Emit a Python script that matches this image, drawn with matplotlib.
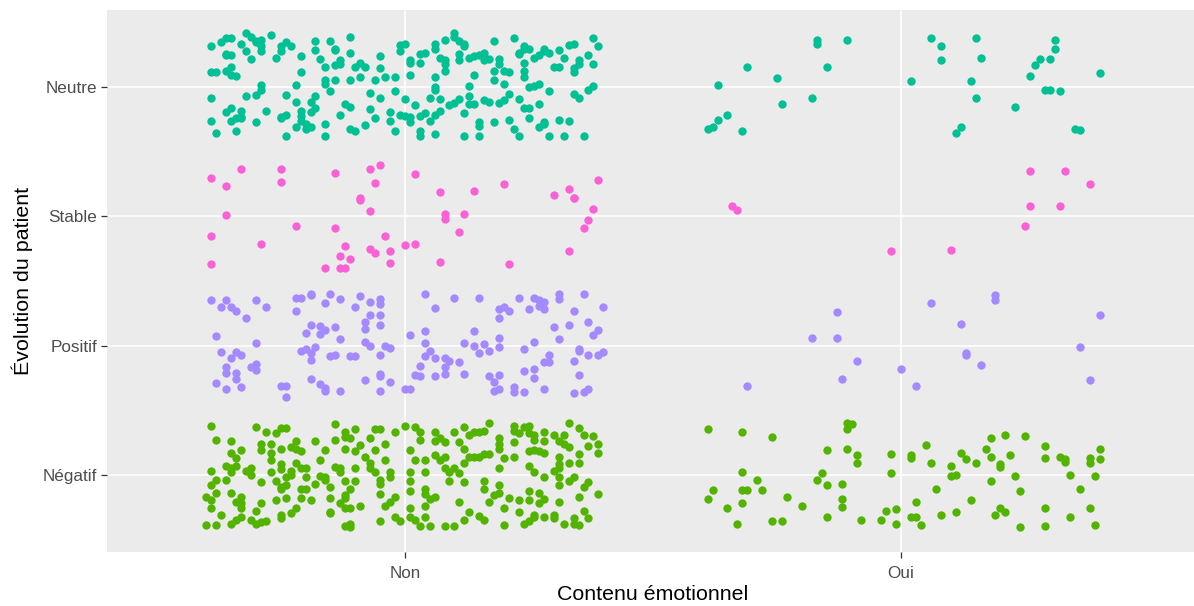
import matplotlib
matplotlib.use('Agg')
import matplotlib.pyplot as plt

plt.rcParams['font.family'] = ['Liberation Sans', 'DejaVu Sans']

# Categories
contenu = ['Non', 'Oui']
evolution = ['Négatif', 'Positif', 'Stable', 'Neutre']
couleurs = {'Négatif': '#53B400', 'Positif': '#A58AFF', 'Stable': '#FB61D7', 'Neutre': '#00C094'}

# Jitter offsets (dx, dy), in category units, per group
non_neutre = [
    (-0.39, 0.32), (-0.37, 0.35), (-0.36, 0.38), (-0.35, 0.38), (-0.33, 0.34), (-0.32, 0.42), (-0.31, 0.39),
    (-0.30, 0.35), (-0.30, 0.36), (-0.29, 0.37), (-0.29, 0.32), (-0.29, 0.28), (-0.27, 0.41), (-0.32, 0.28),
    (-0.31, 0.22), (-0.36, 0.26), (-0.36, 0.25), (-0.35, 0.25), (-0.25, 0.32), (-0.24, 0.35), (-0.23, 0.32),
    (-0.25, 0.28), (-0.26, 0.23), (-0.21, 0.24), (-0.18, 0.36), (-0.18, 0.29), (-0.15, 0.36), (-0.14, 0.30),
    (-0.14, 0.29), (-0.17, 0.22), (-0.16, 0.16), (-0.14, 0.17), (-0.13, 0.18), (-0.13, 0.21), (-0.11, 0.27),
    (-0.11, 0.39), (-0.10, 0.16), (-0.09, 0.19), (-0.08, 0.16), (-0.05, 0.24), (-0.05, 0.15), (-0.01, 0.33),
    (-0.01, 0.28), (-0.39, 0.12), (-0.38, 0.12), (-0.36, 0.13), (-0.35, 0.10), (-0.35, 0.16), (-0.34, 0.09),
    (-0.21, 0.12), (-0.06, 0.06), (-0.04, 0.08), (-0.02, 0.08), (-0.09, 0.08), (-0.11, 0.06), (-0.14, 0.06),
    (-0.16, 0.06), (-0.16, 0.03), (-0.29, 0.02), (-0.29, -0.02), (-0.30, -0.06), (-0.22, 0.02), (-0.15, -0.03),
    (-0.07, -0.04), (-0.02, -0.03), (-0.39, -0.08), (-0.32, -0.07), (-0.24, -0.06), (-0.22, -0.11), (-0.19, -0.11),
    (-0.18, -0.07), (-0.18, -0.16), (-0.19, -0.19), (-0.21, -0.18), (-0.21, -0.22), (-0.21, -0.26), (-0.22, -0.31),
    (-0.20, -0.28), (-0.19, -0.31), (-0.20, -0.32), (-0.16, -0.28), (-0.16, -0.38), (-0.12, -0.13), (-0.11, -0.15),
    (-0.13, -0.21), (-0.07, -0.17), (-0.06, -0.24), (-0.05, -0.08), (-0.03, -0.19), (-0.03, -0.26), (-0.02, -0.34),
    (-0.01, -0.21), (-0.08, -0.29), (-0.11, -0.32), (-0.10, -0.34), (-0.39, -0.26), (-0.36, -0.19), (-0.35, -0.16),
    (-0.33, -0.18), (-0.33, -0.23), (-0.34, -0.24), (-0.35, -0.26), (-0.33, -0.24), (-0.38, -0.35), (-0.34, -0.34),
    (-0.30, -0.27), (-0.28, -0.18), (-0.25, -0.24), (-0.25, -0.23), (-0.24, -0.21), (-0.24, -0.38),
    (0.00, 0.34), (0.01, 0.21), (0.01, 0.19), (0.03, 0.19), (0.03, 0.26), (0.04, 0.27), (0.06, 0.34), (0.06, 0.30),
    (0.07, 0.23), (0.08, 0.21), (0.08, 0.18), (0.08, 0.13), (0.08, 0.37), (0.10, 0.42), (0.10, 0.39), (0.11, 0.36),
    (0.12, 0.34), (0.12, 0.32), (0.11, 0.26), (0.11, 0.21), (0.13, 0.23), (0.14, 0.24), (0.15, 0.25), (0.16, 0.27),
    (0.17, 0.22), (0.16, 0.21), (0.18, 0.36), (0.19, 0.22), (0.19, 0.18), (0.18, 0.13), (0.20, 0.13), (0.21, 0.12),
    (0.22, 0.38), (0.23, 0.26), (0.23, 0.27), (0.24, 0.30), (0.24, 0.32), (0.25, 0.30), (0.24, 0.19), (0.24, 0.13),
    (0.24, 0.08), (0.26, 0.23), (0.27, 0.25), (0.28, 0.28), (0.28, 0.30), (0.29, 0.27), (0.31, 0.29), (0.32, 0.23),
    (0.30, 0.16), (0.31, 0.16), (0.33, 0.33), (0.34, 0.34), (0.35, 0.21), (0.35, 0.18), (0.34, 0.15), (0.34, 0.12),
    (0.37, 0.25), (0.38, 0.18), (0.38, 0.38), (0.39, 0.32), (0.01, 0.10), (0.06, 0.08), (0.06, 0.00), (0.06, -0.02),
    (0.14, 0.10), (0.18, 0.06), (0.20, 0.03), (0.13, 0.01), (0.25, 0.00), (0.26, 0.01), (0.27, 0.03), (0.29, -0.03),
    (0.34, -0.05), (0.35, -0.08), (0.37, -0.02), (0.38, 0.01), (0.00, -0.09), (0.02, -0.14), (0.05, -0.08),
    (0.07, -0.09), (0.09, -0.14), (0.10, -0.12), (0.11, -0.09), (0.13, -0.07), (0.13, -0.13), (0.14, -0.13),
    (0.16, -0.10), (0.17, -0.11), (0.19, -0.12), (0.20, -0.10), (0.21, -0.05), (0.23, -0.09), (0.24, -0.16),
    (0.25, -0.16), (0.27, -0.13), (0.00, -0.22), (0.01, -0.23), (0.01, -0.27), (0.03, -0.22), (0.04, -0.20),
    (0.05, -0.26), (0.06, -0.21), (0.07, -0.18), (0.12, -0.20), (0.15, -0.27), (0.15, -0.30), (0.18, -0.27),
    (0.21, -0.25), (0.22, -0.32), (0.25, -0.24), (0.27, -0.31), (0.28, -0.28), (0.28, -0.27), (0.31, -0.25),
    (0.33, -0.26), (0.03, -0.34), (0.03, -0.38), (0.06, -0.36), (0.12, -0.38), (0.15, -0.38), (0.23, -0.38),
    (0.29, -0.38), (0.32, -0.38), (0.36, -0.38),
]

non_stable = [
    (-0.39, 0.30), (-0.36, 0.24), (-0.33, 0.37), (-0.25, 0.37), (-0.25, 0.27), (-0.36, 0.01), (-0.39, -0.15),
    (-0.39, -0.37), (-0.29, -0.21), (-0.22, -0.07), (-0.14, 0.34), (-0.14, -0.09), (-0.07, 0.37), (-0.05, 0.40),
    (-0.06, 0.26), (-0.09, 0.14), (-0.09, 0.13), (-0.07, 0.04), (-0.12, -0.23), (-0.13, -0.31), (-0.11, -0.33),
    (-0.13, -0.40), (-0.12, -0.40), (-0.16, -0.40), (-0.07, -0.25), (-0.06, -0.28), (-0.04, -0.15), (-0.03, -0.27),
    (-0.03, -0.36), (0.00, -0.22), (0.02, -0.21), (0.02, 0.33), (0.07, 0.19), (0.07, -0.35), (0.08, 0.02),
    (0.08, -0.02), (0.12, 0.02), (0.11, -0.12), (0.14, 0.20), (0.20, 0.25), (0.21, -0.37), (0.30, 0.17),
    (0.33, 0.21), (0.34, 0.14), (0.34, 0.14), (0.38, 0.06), (0.37, -0.03), (0.36, -0.09), (0.39, 0.28),
    (0.33, -0.27),
]

non_positif = [
    (-0.39, 0.35), (-0.37, 0.30), (-0.36, 0.35), (-0.35, 0.30), (-0.34, 0.27), (-0.32, 0.21), (-0.30, 0.35),
    (-0.28, 0.30), (-0.38, 0.07), (-0.30, 0.02), (-0.37, -0.05), (-0.35, -0.10), (-0.34, -0.05), (-0.33, -0.07),
    (-0.36, -0.17), (-0.36, -0.21), (-0.34, -0.21), (-0.34, -0.26), (-0.31, -0.17), (-0.30, -0.14), (-0.30, -0.19),
    (-0.38, -0.29), (-0.36, -0.34), (-0.33, -0.32), (-0.25, -0.31), (-0.24, -0.31), (-0.24, -0.40), (-0.22, 0.37),
    (-0.21, 0.37), (-0.19, 0.39), (-0.19, 0.40), (-0.22, 0.27), (-0.16, 0.33), (-0.15, 0.40), (-0.13, 0.36),
    (-0.19, 0.16), (-0.20, 0.10), (-0.17, 0.09), (-0.17, 0.15), (-0.16, 0.12), (-0.14, 0.14), (-0.13, 0.05),
    (-0.18, -0.01), (-0.21, -0.04), (-0.20, -0.03), (-0.19, -0.06), (-0.19, -0.11), (-0.15, -0.08), (-0.14, -0.07),
    (-0.19, -0.26), (-0.17, -0.30), (-0.16, -0.35), (-0.13, -0.35), (-0.16, -0.33), (-0.09, 0.38), (-0.07, 0.34),
    (-0.05, 0.36), (-0.05, 0.32), (-0.10, 0.30), (-0.07, 0.24), (-0.05, 0.24), (-0.05, 0.16), (-0.08, 0.18),
    (-0.08, 0.13), (-0.08, 0.03), (-0.07, 0.00), (-0.04, 0.00), (-0.03, -0.02), (-0.05, -0.07), (-0.10, -0.08),
    (-0.11, -0.08), (-0.05, -0.22), (-0.05, -0.24), (-0.08, -0.27), (-0.03, -0.28), (-0.05, -0.35),
    (0.04, 0.40), (0.06, 0.29), (0.10, 0.37), (0.15, 0.37), (0.23, 0.37), (0.26, 0.37), (0.27, 0.35), (0.28, 0.34),
    (0.27, 0.31), (0.31, 0.40), (0.31, 0.36), (0.36, 0.40), (0.40, 0.30), (0.20, 0.30), (0.19, 0.28), (0.21, 0.27),
    (0.25, 0.28), (0.28, 0.28), (0.34, 0.27), (0.19, 0.21), (0.37, 0.18), (0.33, 0.16), (0.30, 0.14), (0.39, 0.12),
    (0.38, 0.08), (0.31, 0.05), (0.01, 0.08), (0.04, 0.11), (0.04, 0.02), (0.14, 0.11), (0.19, 0.06), (0.19, -0.01),
    (0.12, 0.02), (0.14, 0.00), (0.16, 0.01), (0.17, -0.04), (0.15, -0.06), (0.26, 0.03), (0.24, -0.03),
    (0.05, -0.04), (0.04, -0.08), (0.06, -0.10), (0.08, -0.10), (0.09, -0.12), (0.11, -0.13), (0.03, -0.16),
    (0.08, -0.17), (0.08, -0.22), (0.12, -0.22), (0.02, -0.23), (0.03, -0.24), (0.06, -0.24), (0.00, -0.34),
    (0.01, -0.34), (0.17, -0.24), (0.18, -0.28), (0.19, -0.23), (0.18, -0.35), (0.19, -0.34), (0.22, -0.32),
    (0.22, -0.36), (0.24, -0.36), (0.24, -0.20), (0.26, -0.18), (0.26, -0.25), (0.28, -0.13), (0.29, -0.07),
    (0.29, -0.13), (0.28, -0.34), (0.35, -0.03), (0.35, -0.04), (0.37, -0.07), (0.39, -0.07), (0.40, -0.05),
    (0.34, -0.12), (0.35, -0.23), (0.34, -0.37), (0.37, -0.34), (0.36, -0.36),
]

non_negatif = [
    (-0.39, 0.38), (-0.30, 0.37), (-0.28, 0.33), (-0.25, 0.36), (-0.24, 0.36), (-0.26, 0.32), (-0.38, 0.27),
    (-0.35, 0.26), (-0.29, 0.24), (-0.29, 0.19), (-0.27, 0.17), (-0.27, 0.24), (-0.25, 0.20), (-0.23, 0.21),
    (-0.22, 0.20), (-0.22, 0.26), (-0.21, 0.18), (-0.18, 0.26), (-0.16, 0.19), (-0.14, 0.27), (-0.14, 0.39),
    (-0.35, 0.17), (-0.33, 0.19), (-0.34, 0.13), (-0.27, 0.11), (-0.17, 0.11), (-0.36, 0.07), (-0.35, 0.05),
    (-0.34, 0.07), (-0.39, 0.03), (-0.35, 0.02), (-0.32, 0.03), (-0.31, 0.05), (-0.31, 0.00), (-0.27, 0.02),
    (-0.25, 0.08), (-0.25, 0.04), (-0.22, 0.09), (-0.23, 0.03), (-0.21, 0.05), (-0.20, 0.05), (-0.24, -0.02),
    (-0.23, 0.00), (-0.20, -0.02), (-0.17, -0.01), (-0.16, -0.02), (-0.14, 0.06), (-0.38, -0.04), (-0.36, -0.04),
    (-0.39, -0.08), (-0.29, -0.06), (-0.26, -0.05), (-0.25, -0.10), (-0.24, -0.08), (-0.25, -0.11), (-0.21, -0.11),
    (-0.20, -0.11), (-0.18, -0.07), (-0.16, -0.04), (-0.15, -0.10), (-0.38, -0.14), (-0.35, -0.14), (-0.40, -0.17),
    (-0.39, -0.20), (-0.34, -0.21), (-0.33, -0.17), (-0.33, -0.22), (-0.33, -0.26), (-0.29, -0.22), (-0.26, -0.20),
    (-0.24, -0.18), (-0.21, -0.18), (-0.19, -0.20), (-0.15, -0.18), (-0.39, -0.26), (-0.37, -0.31), (-0.30, -0.28),
    (-0.22, -0.26), (-0.23, -0.30), (-0.25, -0.31), (-0.25, -0.34), (-0.15, -0.30), (-0.15, -0.29), (-0.33, -0.33),
    (-0.34, -0.35), (-0.35, -0.38), (-0.40, -0.39), (-0.38, -0.39), (-0.31, -0.35), (-0.29, -0.37), (-0.28, -0.36),
    (-0.30, -0.38),
    (-0.12, 0.33), (-0.10, 0.35), (-0.12, 0.29), (-0.11, 0.28), (-0.06, 0.35), (-0.05, 0.35), (-0.02, 0.33),
    (0.00, 0.38), (0.02, 0.37), (0.03, 0.33), (0.03, 0.27), (0.06, 0.33), (0.07, 0.28), (0.06, 0.26), (0.10, 0.33),
    (0.12, 0.37), (0.13, 0.31), (0.08, 0.25), (0.11, 0.25), (0.12, 0.20), (-0.12, 0.20), (-0.10, 0.18),
    (-0.09, 0.23), (-0.07, 0.28), (-0.04, 0.24), (-0.06, 0.19), (-0.08, 0.14), (-0.07, 0.09), (-0.07, 0.05),
    (-0.06, 0.02), (-0.04, 0.11), (-0.03, 0.02), (-0.03, -0.02), (-0.10, 0.05), (-0.13, 0.05), (-0.13, 0.02),
    (0.01, 0.19), (0.02, 0.11), (0.04, 0.11), (0.06, 0.15), (0.08, 0.14), (0.07, 0.11), (0.12, 0.09), (0.13, 0.14),
    (0.01, 0.02), (0.04, 0.02), (0.08, 0.05), (0.09, 0.02), (0.10, 0.05), (0.11, 0.01), (0.09, -0.05),
    (0.12, -0.06), (-0.12, -0.05), (-0.10, -0.05), (-0.05, -0.04), (-0.05, -0.07), (0.01, -0.05), (-0.11, -0.11),
    (-0.12, -0.16), (-0.12, -0.18), (-0.05, -0.15), (0.01, -0.13), (0.04, -0.11), (0.04, -0.15), (0.05, -0.19),
    (0.06, -0.17), (0.04, -0.24), (-0.02, -0.17), (-0.03, -0.21), (-0.04, -0.24), (0.11, -0.21), (-0.13, -0.22),
    (-0.12, -0.26), (-0.11, -0.26), (-0.09, -0.24), (0.01, -0.26), (0.01, -0.33), (0.02, -0.35), (-0.02, -0.33),
    (-0.01, -0.36), (0.04, -0.33), (0.13, -0.29), (0.12, -0.35), (-0.12, -0.40), (-0.11, -0.38), (-0.11, -0.41),
    (-0.05, -0.36), (0.03, -0.40), (0.05, -0.40), (0.08, -0.40), (0.10, -0.40),
    (0.17, 0.40), (0.14, 0.33), (0.15, 0.33), (0.16, 0.34), (0.22, 0.38), (0.22, 0.34), (0.23, 0.32), (0.24, 0.37),
    (0.25, 0.38), (0.25, 0.32), (0.26, 0.31), (0.26, 0.27), (0.28, 0.33), (0.30, 0.31), (0.28, 0.26), (0.33, 0.40),
    (0.32, 0.31), (0.35, 0.36), (0.36, 0.31), (0.38, 0.30), (0.39, 0.24), (0.37, 0.22), (0.39, 0.17), (0.19, 0.28),
    (0.19, 0.24), (0.19, 0.20), (0.22, 0.25), (0.31, 0.26), (0.32, 0.24), (0.33, 0.21), (0.25, 0.18), (0.26, 0.19),
    (0.27, 0.18), (0.28, 0.17), (0.31, 0.14), (0.35, 0.16), (0.33, 0.09), (0.35, 0.09), (0.14, 0.14), (0.16, 0.16),
    (0.17, 0.16), (0.15, 0.14), (0.20, 0.13), (0.22, 0.14), (0.19, 0.05), (0.25, 0.07), (0.26, 0.02), (0.30, 0.03),
    (0.31, 0.08), (0.31, 0.05), (0.28, -0.02), (0.31, -0.02), (0.31, -0.08), (0.33, -0.05), (0.34, -0.02),
    (0.16, -0.05), (0.16, -0.11), (0.19, -0.08), (0.19, -0.14), (0.18, -0.16), (0.17, -0.21), (0.21, -0.18),
    (0.23, -0.20), (0.25, -0.13), (0.25, -0.20), (0.27, -0.14), (0.28, -0.19), (0.27, -0.22), (0.31, -0.21),
    (0.20, -0.26), (0.23, -0.29), (0.35, -0.17), (0.36, -0.10), (0.37, -0.06), (0.39, -0.15), (0.36, -0.28),
    (0.37, -0.34), (0.15, -0.32), (0.16, -0.35), (0.20, -0.39), (0.24, -0.38), (0.26, -0.33), (0.26, -0.31),
    (0.25, -0.36), (0.28, -0.33), (0.30, -0.31), (0.30, -0.34), (0.32, -0.38), (0.34, -0.34), (0.34, -0.38),
    (0.35, -0.39),
]

oui_neutre = [
    (-0.17, 0.37), (-0.17, 0.34), (-0.11, 0.37), (-0.31, 0.16), (-0.15, 0.16), (-0.25, 0.07), (-0.37, 0.02),
    (-0.18, -0.08), (-0.24, -0.13), (-0.35, -0.21), (-0.37, -0.25), (-0.38, -0.31), (-0.39, -0.32), (-0.32, -0.34),
    (0.06, 0.38), (0.08, 0.32), (0.15, 0.38), (0.16, 0.23), (0.08, 0.21), (0.02, 0.05), (0.14, 0.05),
    (0.15, -0.08), (0.12, -0.31), (0.11, -0.35), (0.23, -0.15), (0.31, 0.37), (0.31, 0.30), (0.28, 0.22),
    (0.30, 0.22), (0.27, 0.17), (0.26, 0.09), (0.40, 0.11), (0.29, -0.02), (0.30, -0.02), (0.32, -0.03),
    (0.35, -0.32), (0.36, -0.33),
]

oui_stable = [
    (0.26, 0.35), (0.33, 0.35), (0.38, 0.25), (0.26, 0.08), (0.32, 0.08), (0.25, -0.07), (0.10, -0.26),
    (-0.02, -0.27), (-0.34, 0.08), (-0.33, 0.05),
]

oui_positif = [
    (0.19, 0.39), (0.19, 0.35), (0.06, 0.33), (-0.13, 0.26), (0.12, 0.17), (0.40, 0.24), (-0.18, 0.06),
    (-0.13, 0.06), (0.36, -0.01), (0.13, -0.07), (0.13, -0.06), (-0.09, -0.12), (0.16, -0.15), (0.00, -0.18),
    (-0.12, -0.26), (-0.31, -0.31), (0.03, -0.31), (0.38, -0.27),
]

oui_negatif = [
    (-0.39, 0.35), (-0.32, 0.33), (-0.26, 0.29), (-0.11, 0.40), (-0.10, 0.39), (-0.11, 0.35), (-0.15, 0.19),
    (-0.11, 0.20), (-0.09, 0.15), (-0.09, 0.09), (-0.02, 0.16), (-0.32, 0.02), (-0.29, -0.04), (-0.38, -0.12),
    (-0.32, -0.12), (-0.31, -0.12), (-0.28, -0.12), (-0.39, -0.19), (-0.32, -0.22), (-0.35, -0.26), (-0.23, -0.17),
    (-0.20, -0.24), (-0.33, -0.38), (-0.26, -0.36), (-0.24, -0.36), (-0.16, 0.01), (-0.17, -0.04), (-0.15, -0.08),
    (-0.12, -0.07), (-0.12, -0.19), (-0.12, -0.25), (-0.15, -0.33), (-0.08, -0.35), (-0.02, 0.01), (-0.04, -0.35),
    (-0.03, -0.28), (-0.01, -0.27), (-0.01, -0.38), (0.02, 0.15), (0.02, 0.13), (0.05, 0.23), (0.06, 0.09),
    (0.12, 0.17), (0.13, 0.12), (0.15, 0.09), (0.10, 0.07), (0.11, 0.00), (0.10, -0.01), (0.17, 0.20),
    (0.18, 0.14), (0.18, 0.28), (0.21, 0.31), (0.25, 0.30), (0.22, 0.15), (0.20, 0.08), (0.20, 0.06),
    (0.23, -0.01), (0.18, -0.05), (0.24, -0.13), (0.07, -0.11), (0.03, -0.21), (0.14, -0.20), (0.20, -0.26),
    (0.19, -0.31), (0.21, -0.29), (0.08, -0.31), (0.11, -0.29), (0.02, -0.33), (0.03, -0.33), (0.04, -0.39),
    (0.24, -0.41), (0.29, 0.22), (0.29, 0.13), (0.32, 0.14), (0.33, 0.12), (0.33, 0.10), (0.34, 0.00),
    (0.36, -0.11), (0.29, -0.26), (0.29, -0.40), (0.34, -0.33), (0.38, -0.26), (0.39, -0.39), (0.39, -0.01),
    (0.38, 0.09), (0.38, 0.13), (0.40, 0.12), (0.40, 0.20),
]

groupes = [
    ('Non', 'Neutre', non_neutre), ('Non', 'Stable', non_stable),
    ('Non', 'Positif', non_positif), ('Non', 'Négatif', non_negatif),
    ('Oui', 'Neutre', oui_neutre), ('Oui', 'Stable', oui_stable),
    ('Oui', 'Positif', oui_positif), ('Oui', 'Négatif', oui_negatif),
]

fig = plt.figure(figsize=(11.94, 6.06), dpi=100)
ax = fig.add_axes([107 / 1194, 1 - 552 / 606, 1092 / 1194, 542 / 606])
ax.set_facecolor('#EBEBEB')

for c, e, pts in groupes:
    xs = [contenu.index(c) + 1 + dx for dx, dy in pts]
    ys = [evolution.index(e) + 1 + dy for dx, dy in pts]
    ax.scatter(xs, ys, s=36, color=couleurs[e], linewidths=0, zorder=3)

ax.set_xlim(0.4, 2.6)
ax.set_ylim(0.4, 4.6)
ax.set_xticks([1, 2])
ax.set_xticklabels(contenu)
ax.set_yticks([1, 2, 3, 4])
ax.set_yticklabels(evolution)
ax.grid(True, color='white', linewidth=1.1, zorder=0)
ax.set_axisbelow(True)
for sp in ax.spines.values():
    sp.set_visible(False)
ax.tick_params(axis='both', length=4.2, width=0.9, color='#333333',
               labelcolor='#4D4D4D', labelsize=12.3, pad=3)
ax.tick_params(axis='x', pad=6)
ax.set_xlabel('Contenu émotionnel', fontsize=15.4, color='black', labelpad=3)
ax.set_ylabel('Évolution du patient', fontsize=15.4, color='black', labelpad=7)

fig.savefig('out.png', dpi=100)
